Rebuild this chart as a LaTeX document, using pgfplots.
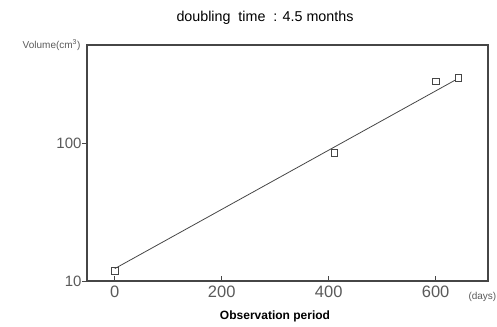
\documentclass[border=0pt]{standalone}
\usepackage{pgfplots}
\pgfplotsset{compat=1.18}
\usepackage{fontspec}
\setmainfont{Liberation Sans}
\definecolor{axgray}{RGB}{70,70,70}
\definecolor{txtgray}{RGB}{90,90,90}
\begin{document}
\begin{tikzpicture}[x=1pt,y=1pt]
\path[use as bounding box] (0,0) rectangle (497,326);
\begin{axis}[
  at={(87pt,45pt)}, anchor=south west,
  scale only axis, width=401pt, height=236pt,
  ymode=log, log basis y=10,
  xmin=-52, xmax=698, ymin=10, ymax=513,
  xtick={0,200,400,600}, ytick={10,100},
  yticklabels={10,100},
  minor ytick={}, minor tick length=0pt,
  axis line style={axgray, line width=1.6pt},
  tick align=inside,
  major tick length=5pt,
  ytick style={axgray, line width=0.8pt, xshift=-5pt},
  xtick style={axgray, line width=0.8pt},
  ticklabel style={text=txtgray},
  xticklabel style={font=\fontsize{16.5}{18}\selectfont, yshift=-1pt},
  yticklabel style={font=\fontsize{15}{17}\selectfont, xshift=-2pt},
  /pgf/number format/assume math mode=true,
  log ticks with fixed point,
  xtick pos=bottom, ytick pos=left,
  clip=false,
]
\addplot[axgray, line width=0.8pt] coordinates {(0,12.3) (637,286)};
\addplot[only marks, mark=square, mark size=3.3pt, mark options={axgray, line width=0.8pt, fill=white}]
  coordinates {(0,11.8) (411,85) (601,279) (643,296)};
\end{axis}
\node[font=\fontsize{14.3}{17}\selectfont, anchor=center] at (265,308) {doubling\ \ time\ \ : 4.5 months};
\node[font=\fontsize{10}{12}\selectfont, text=txtgray, anchor=east] at (84,281) {Volume(cm\textsuperscript{3})};
\node[font=\fontsize{10}{12}\selectfont, text=txtgray, anchor=west] at (465,29) {(days)};
\node[font=\bfseries\fontsize{12}{14}\selectfont, anchor=center] at (275,10) {Observation period};
\end{tikzpicture}
\end{document}
